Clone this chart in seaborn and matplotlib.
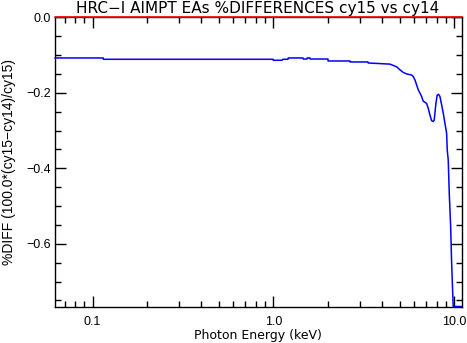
import numpy as np
import pandas as pd
import matplotlib
matplotlib.use("Agg")
import matplotlib.pyplot as plt
import matplotlib.ticker as mticker
import seaborn as sns

# Photon energy (keV) and percent difference of effective areas
energy_kev = [0.062, 0.1147, 0.1150, 0.996, 1.000, 1.117, 1.131, 1.206, 1.21, 1.460,
              1.465, 1.536, 1.54, 1.596, 1.60, 2.007, 2.01, 2.656, 2.66, 3.341,
              3.35, 4.42, 4.81, 5.02, 5.24, 5.47, 5.83, 5.95, 6.08, 6.21,
              6.34, 6.48, 6.62, 6.75, 7.05, 7.20, 7.36, 7.52, 7.67, 7.77,
              7.84, 7.94, 8.07, 8.22, 8.36, 8.54, 8.72, 8.91, 9.10, 9.17,
              9.29, 9.41, 9.58, 9.70, 9.82, 9.90, 11.0]
pct_diff = [-0.1077, -0.1077, -0.1112, -0.1112, -0.1138, -0.1138, -0.1112, -0.1112, -0.1077, -0.1077,
            -0.1105, -0.1105, -0.1077, -0.1077, -0.1105, -0.1105, -0.1157, -0.1157, -0.1183, -0.1183,
            -0.1210, -0.1240, -0.131, -0.139, -0.146, -0.150, -0.153, -0.157, -0.166, -0.179,
            -0.192, -0.201, -0.210, -0.222, -0.228, -0.241, -0.259, -0.274, -0.276, -0.272,
            -0.254, -0.228, -0.206, -0.204, -0.210, -0.232, -0.254, -0.281, -0.307, -0.351,
            -0.378, -0.465, -0.554, -0.650, -0.722, -0.766, -0.766]

x_ticks = [0.1, 1.0, 10.0]
x_tick_labels = ["0.1", "1.0", "10.0"]
y_ticks = [0.0, -0.2, -0.4, -0.6]

df = pd.DataFrame({"energy": energy_kev, "diff": pct_diff})

sns.set_style("ticks")
plt.rcParams["font.family"] = ["Liberation Sans", "DejaVu Sans"]
plt.rcParams.update({
    "text.color": "black",
    "axes.labelcolor": "black",
    "xtick.color": "black",
    "ytick.color": "black",
    "xtick.labelcolor": "black",
    "ytick.labelcolor": "black",
})

W, H = 467, 343
fig = plt.figure(figsize=(W / 100, H / 100), dpi=100)
ax = fig.add_axes([55 / W, 1 - 306.5 / H, (461.5 - 55) / W, (306.5 - 17.3) / H])

# zero reference drawn over the top frame
ax.axhline(0.0, color="red", lw=1.2, zorder=5, clip_on=False)
sns.lineplot(data=df, x="energy", y="diff", ax=ax, color="#0000ff", lw=1.1,
             estimator=None, sort=False, zorder=4)
for ln in ax.lines:
    ln.set_clip_on(False)

ax.set_xscale("log")
ax.set_xlim(0.062, 11.0)
ax.set_ylim(-0.766, 0.0)

ax.xaxis.set_major_locator(mticker.FixedLocator(x_ticks))
ax.xaxis.set_major_formatter(mticker.FixedFormatter(x_tick_labels))
ax.xaxis.set_minor_locator(mticker.LogLocator(base=10, subs=np.arange(2, 10), numticks=20))
ax.xaxis.set_minor_formatter(mticker.NullFormatter())
ax.yaxis.set_major_locator(mticker.FixedLocator(y_ticks))
ax.yaxis.set_major_formatter(
    mticker.FuncFormatter(lambda v, _: f"{v:.1f}".replace("-", "\u2212") if abs(v) > 1e-9 else "0.0"))
ax.yaxis.set_minor_locator(mticker.MultipleLocator(0.05))

ax.tick_params(which="both", direction="in", top=True, right=True, color="black",
               labelcolor="black", labelsize=9, width=1)
ax.tick_params(which="major", length=8)
ax.tick_params(which="minor", length=4)
ax.tick_params(axis="x", which="major", pad=7)
ax.tick_params(axis="y", which="major", pad=3)
for sp in ax.spines.values():
    sp.set_visible(True)
    sp.set_color("black")
    sp.set_linewidth(1)

ax.set_xlabel("")
ax.set_ylabel("%DIFF (100.0*(cy15\u2212cy14)/cy15)", fontsize=10, labelpad=7, color="black")
fig.text(258 / W, 1 - 12.5 / H, "HRC\u2212I AIMPT EAs %DIFFERENCES cy15 vs cy14",
         fontsize=11, family="DejaVu Sans", ha="center", va="baseline", color="black")
fig.text(258 / W, 1 - 339.5 / H, "Photon Energy (keV)",
         fontsize=9, family="DejaVu Sans", ha="center", va="baseline", color="black")

fig.savefig("out.png", dpi=100, facecolor="white")
